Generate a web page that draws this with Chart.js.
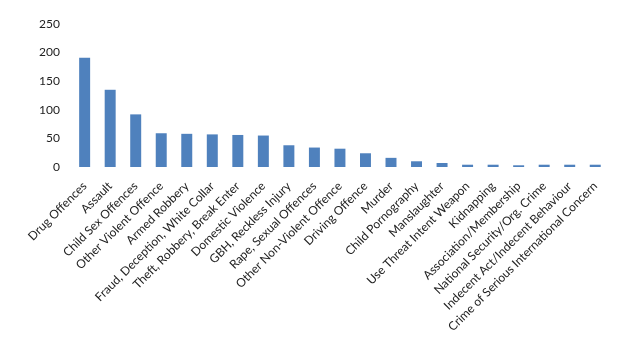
<!DOCTYPE html>
<html>
<head>
<meta charset="utf-8">
<script src="https://cdn.jsdelivr.net/npm/chart.js@4/dist/chart.umd.min.js"></script>
<style>
  html, body { margin: 0; padding: 0; background: #fff; }
  #wrap { width: 635px; height: 354px; }
</style>
</head>
<body>
<div id="wrap"><canvas id="barChart" width="635" height="354"></canvas></div>
<script>
/* offence categories, in chart order */
const categories = [
    "Drug Offences", "Assault", "Child Sex Offences", "Other Violent Offence",
    "Armed Robbery", "Fraud, Deception, White Collar", "Theft, Robbery, Break Enter",
    "Domestic Violence", "GBH, Reckless Injury", "Rape, Sexual Offences",
    "Other Non-Violent Offence", "Driving Offence", "Murder", "Child Pornography",
    "Manslaughter", "Use Threat Intent Weapon", "Kidnapping", "Association/Membership",
    "National Security/Org. Crime", "Indecent Act/Indecent Behaviour",
    "Crime of Serious International Concern"
];

/* counts */
const counts = [191, 135, 92, 59, 58, 57, 56, 55, 38, 34, 32, 24, 16, 10, 7, 4, 4, 3, 4, 4, 4];

/* y axis ticks */
const yTicks = [0, 50, 100, 150, 200, 250];

new Chart(document.getElementById("barChart"), {
    type: "bar",
    data: {
        labels: categories,
        datasets: [{
            data: counts,
            backgroundColor: "#4F81BD",
            categoryPercentage: 1,
            barPercentage: 0.43
        }]
    },
    options: {
        responsive: false,
        animation: false,
        layout: { padding: { left: 27, top: 24, right: 27, bottom: 12 } },
        plugins: { legend: { display: false }, tooltip: { enabled: false } },
        scales: {
            x: {
                grid: { display: false, drawTicks: false },
                border: { display: false },
                // labels are long; give the axis more room than the default half-height cap
                afterFit: axis => { axis.height = 175; },
                ticks: {
                    autoSkip: false,
                    minRotation: 45,
                    maxRotation: 45,
                    padding: 12,
                    color: "#222",
                    font: { family: "Lato", size: 12 }
                }
            },
            y: {
                min: yTicks[0],
                max: yTicks[yTicks.length - 1],
                grid: { display: false, drawTicks: false },
                border: { display: false },
                afterBuildTicks: axis => { axis.ticks = yTicks.map(v => ({ value: v })); },
                ticks: {
                    padding: 12,
                    color: "#222",
                    font: { family: "Lato", size: 12 }
                }
            }
        }
    }
});
</script>
</body>
</html>
